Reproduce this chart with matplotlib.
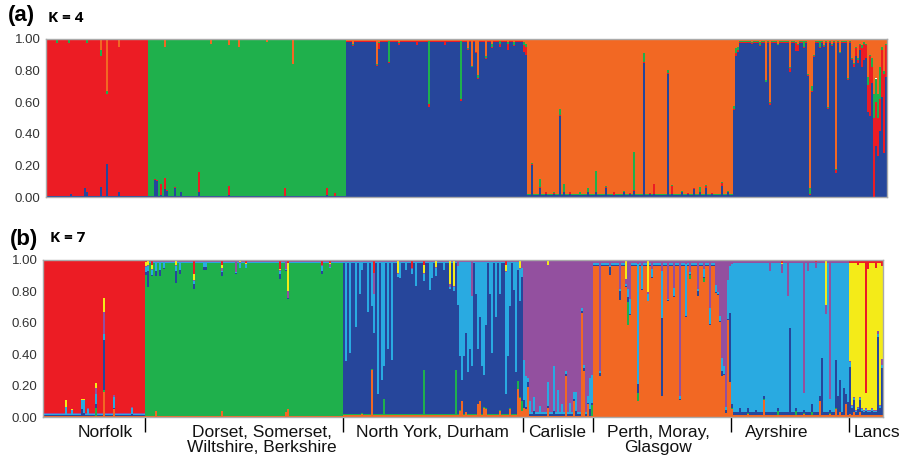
import numpy as np
import matplotlib
matplotlib.use('Agg')
import matplotlib.pyplot as plt

plt.rcParams['font.family'] = ['Liberation Sans', 'DejaVu Sans']

# sampling groups, in plotting order, and number of individuals in each
pops = ['Norfolk', 'South', 'NorthYork', 'Carlisle', 'Perth', 'Ayrshire', 'Lancs']
n_ind = [51, 99, 90, 35, 69, 59, 17]

# ---------------- K = 4 ----------------
k4_order = ['blue', 'red', 'green', 'orange']          # stacking order, bottom -> top
k4_colors = {'blue': '#26469b', 'red': '#ec1c24', 'green': '#1fb04c', 'orange': '#f26823'}
k4_main = ['red', 'green', 'blue', 'orange', 'orange', 'blue', 'blue']
k4_base = [
    {'blue': .004, 'green': .003, 'orange': .005},
    {'blue': .005, 'red': .004, 'orange': .004},
    {'red': .005, 'green': .005, 'orange': .01},
    {'blue': .01, 'red': .004, 'green': .004},
    {'blue': .01, 'red': .004, 'green': .004},
    {'red': .005, 'green': .006, 'orange': .012},
    {'red': .03, 'green': .01, 'orange': .03},
]
k4_norfolk = {
    5: {'green': .02}, 11: {'green': .02}, 12: {'blue': .02}, 19: {'blue': .06},
    20: {'blue': .03, 'green': .02}, 27: {'blue': .065, 'orange': .07, 'green': .04},
    30: {'blue': .21, 'orange': .33, 'green': .015}, 36: {'blue': .03, 'orange': .05},
}
k4_south = {
    3: {'blue': .11}, 4: {'blue': .10, 'red': .01}, 6: {'red': .07, 'blue': .01},
    8: {'red': .07, 'blue': .05, 'orange': .05}, 9: {'blue': .04},
    13: {'blue': .06, 'red': .005}, 16: {'blue': .03}, 25: {'red': .13, 'blue': .03},
    31: {'orange': .03}, 40: {'red': .06, 'blue': .01, 'orange': .04},
    45: {'orange': .05}, 59: {'orange': .02}, 68: {'red': .05}, 72: {'orange': .16},
    89: {'red': .05, 'blue': .01}, 93: {'red': .02},
}
k4_northyork = {
    3: {'orange': .03, 'red': .01}, 15: {'orange': .16}, 16: {'red': .04, 'orange': .02},
    21: {'green': .13, 'orange': .015}, 26: {'red': .015, 'orange': .02}, 35: {'red': .02},
    41: {'green': .40, 'red': .02, 'orange': .01}, 49: {'red': .02},
    57: {'green': .37, 'red': .01}, 60: {'orange': .06}, 62: {'orange': .17},
    64: {'orange': .08}, 65: {'orange': .23, 'green': .02}, 69: {'orange': .11, 'green': .01},
    72: {'green': .02, 'orange': .03}, 76: {'red': .02, 'green': .02},
    80: {'red': .04, 'green': .01, 'orange': .02}, 83: {'green': .02, 'orange': .02},
    88: {'red': .04, 'green': .02, 'orange': .02}, 89: {'red': .05, 'green': .02, 'orange': .03},
}
k4_carlisle = {
    2: {'blue': .20, 'red': .01}, 6: {'blue': .06, 'green': .05}, 9: {'blue': .02, 'red': .01},
    13: {'blue': .02, 'green': .01}, 16: {'blue': .51, 'red': .01, 'green': .04},
    18: {'blue': .03, 'green': .05}, 21: {'blue': .02, 'red': .01},
    26: {'green': .02, 'blue': .01}, 30: {'blue': .03, 'green': .02},
    34: {'blue': .03, 'green': .13},
}
k4_perth = {
    4: {'blue': .06}, 8: {'blue': .01, 'red': .02}, 13: {'blue': .03}, 16: {'blue': .02},
    18: {'blue': .04, 'green': .24}, 23: {'blue': .85, 'green': .06}, 26: {'blue': .02},
    28: {'blue': .02, 'red': .06}, 35: {'blue': .78, 'green': .02},
    37: {'red': .05, 'blue': .02}, 42: {'blue': .03}, 45: {'blue': .02}, 48: {'blue': .05},
    51: {'blue': .03, 'green': .03}, 54: {'blue': .06, 'red': .01}, 57: {'blue': .02},
    62: {'blue': .07, 'red': .02}, 65: {'blue': .03}, 68: {'blue': .55, 'green': .02},
}
k4_ayrshire = {
    0: {'orange': .06, 'green': .03, 'red': .02}, 1: {'orange': .05, 'green': .02, 'red': .01},
    8: {'orange': .02}, 12: {'green': .02, 'orange': .02}, 15: {'orange': .26, 'green': .01},
    17: {'orange': .40, 'red': .01}, 21: {'orange': .03}, 27: {'orange': .18, 'red': .02},
    30: {'red': .05, 'orange': .02}, 31: {'red': .04, 'orange': .03},
    34: {'green': .04, 'orange': .01}, 36: {'orange': .22, 'red': .01},
    37: {'orange': .94, 'green': .04}, 38: {'orange': .30, 'green': .03}, 39: {'orange': .10},
    42: {'green': .04}, 44: {'orange': .04}, 46: {'orange': .43},
    48: {'orange': .03, 'green': .01}, 50: {'orange': .82, 'red': .02}, 52: {'orange': .08},
    56: {'orange': .25}, 58: {'orange': .12},
}
k4_lancs = {
    0: {'orange': .15, 'red': .02}, 1: {'orange': .05, 'red': .05},
    2: {'orange': .12, 'red': .02}, 4: {'red': .12, 'green': .02, 'orange': .04},
    5: {'red': .10, 'orange': .02}, 6: {'orange': .03, 'red': .08},
    7: {'red': .17, 'green': .05, 'orange': .24}, 8: {'red': .38, 'orange': .10},
    9: {'red': .10, 'green': .06, 'orange': .12}, 10: {'red': .50, 'green': .15, 'orange': .35},
    11: {'red': .28, 'green': .15, 'orange': .25}, 12: {'red': .24, 'green': .15, 'orange': .35},
    13: {'red': .20, 'green': .20, 'orange': .18}, 14: {'red': .30, 'green': .02, 'orange': .05},
    15: {'red': .50, 'orange': .20, 'green': .02}, 16: {'red': .20, 'orange': .03},
}
k4_mix = [k4_norfolk, k4_south, k4_northyork, k4_carlisle, k4_perth, k4_ayrshire, k4_lancs]

# ---------------- K = 7 ----------------
k7_order = ['org', 'grn', 'dbl', 'lbl', 'pur', 'yel', 'red']
k7_colors = {'org': '#f26823', 'grn': '#1fb04c', 'dbl': '#26469b', 'lbl': '#29aae1',
             'pur': '#93509f', 'yel': '#f4eb18', 'red': '#ec1c24'}
k7_main = ['red', 'grn', 'dbl', 'pur', 'org', 'lbl', 'yel']
k7_base = [
    {'org': .005, 'grn': .003, 'dbl': .005, 'lbl': .008, 'pur': .003, 'yel': .003},
    {'org': .005, 'dbl': .005, 'lbl': .005, 'pur': .005, 'yel': .003, 'red': .004},
    {'org': .012, 'grn': .005, 'lbl': .008, 'pur': .006, 'yel': .004, 'red': .004},
    {'org': .008, 'dbl': .012, 'lbl': .015, 'yel': .004, 'red': .003},
    {'dbl': .006, 'lbl': .01, 'pur': .015, 'yel': .004, 'red': .003},
    {'org': .01, 'grn': .005, 'dbl': .018, 'pur': .008, 'yel': .004, 'red': .004},
    {'org': .01, 'dbl': .02, 'lbl': .01, 'pur': .005, 'red': .02},
]
k7_norfolk = {
    11: {'lbl': .05, 'yel': .04}, 14: {'lbl': .03}, 19: {'dbl': .04, 'lbl': .06},
    20: {'lbl': .08, 'dbl': .02}, 22: {'lbl': .04},
    26: {'grn': .05, 'dbl': .03, 'lbl': .06, 'pur': .04, 'yel': .03},
    30: {'org': .16, 'grn': .01, 'dbl': .32, 'lbl': .04, 'pur': .14, 'yel': .09},
    35: {'org': .05, 'lbl': .07, 'pur': .01}, 44: {'lbl': .04, 'dbl': .01},
}
k7_south = {
    0: {'yel': .03, 'lbl': .03, 'dbl': .02, 'red': .01}, 1: {'dbl': .10, 'lbl': .03, 'yel': .03},
    3: {'red': .03, 'yel': .03, 'lbl': .03}, 5: {'org': .04, 'lbl': .06, 'dbl': .03},
    7: {'lbl': .05, 'dbl': .04}, 9: {'lbl': .04}, 15: {'yel': .03, 'lbl': .03, 'dbl': .08},
    17: {'lbl': .05, 'dbl': .03}, 24: {'red': .09, 'yel': .04, 'lbl': .02, 'dbl': .03},
    29: {'lbl': .03, 'dbl': .02}, 30: {'lbl': .03, 'dbl': .02},
    38: {'org': .04, 'red': .03, 'yel': .02, 'pur': .02, 'dbl': .03}, 45: {'pur': .07},
    47: {'lbl': .03, 'yel': .01}, 50: {'red': .02, 'lbl': .02},
    67: {'red': .06, 'lbl': .02, 'dbl': .03}, 70: {'org': .03, 'pur': .05},
    71: {'org': .05, 'red': .02, 'yel': .18, 'pur': .04},
    88: {'red': .03, 'lbl': .03, 'dbl': .02}, 92: {'red': .02, 'pur': .02},
}
k7_northyork = {
    1: {'lbl': .63}, 3: {'lbl': .58}, 6: {'lbl': .41}, 8: {'lbl': .20},
    9: {'org': .02, 'lbl': .05}, 12: {'lbl': .32}, 14: {'org': .30, 'lbl': .28},
    15: {'red': .08, 'pur': .13, 'lbl': .25}, 17: {'lbl': .84}, 19: {'lbl': .75},
    20: {'lbl': .66, 'grn': .10}, 22: {'lbl': .55}, 24: {'lbl': .62},
    27: {'yel': .08, 'lbl': .02}, 28: {'lbl': .10}, 31: {'lbl': .05},
    34: {'red': .05, 'lbl': .03}, 36: {'lbl': .15},
    40: {'grn': .29, 'lbl': .05, 'yel': .05, 'red': .03}, 43: {'lbl': .18}, 44: {'lbl': .10},
    46: {'lbl': .05, 'yel': .04}, 50: {'lbl': .05}, 53: {'yel': .15, 'pur': .02},
    55: {'yel': .16, 'lbl': .03}, 56: {'grn': .29}, 57: {'lbl': .25, 'pur': .03},
    58: {'lbl': .60, 'org': .04}, 59: {'lbl': .75, 'org': .10}, 60: {'lbl': .60},
    61: {'lbl': .45, 'org': .03}, 62: {'lbl': .70}, 63: {'lbl': .55},
    64: {'pur': .22, 'lbl': .45}, 66: {'lbl': .20}, 67: {'org': .08, 'lbl': .55},
    68: {'org': .10, 'lbl': .35}, 69: {'lbl': .66}, 70: {'org': .06, 'lbl': .72},
    71: {'org': .05, 'lbl': .40}, 73: {'lbl': .20}, 74: {'lbl': .58}, 76: {'lbl': .35},
    78: {'lbl': .20, 'org': .04}, 81: {'red': .03, 'yel': .04, 'lbl': .78},
    82: {'lbl': .60}, 83: {'lbl': .28, 'org': .05}, 85: {'lbl': .18}, 86: {'lbl': .70},
    87: {'org': .18, 'grn': .05, 'lbl': .05}, 88: {'org': .12, 'lbl': .20, 'yel': .05},
    89: {'org': .04, 'grn': .06, 'lbl': .06, 'pur': .04},
}
k7_carlisle = {
    0: {'org': .06, 'dbl': .05, 'lbl': .25}, 1: {'org': .05, 'lbl': .20},
    2: {'org': .19, 'dbl': .03, 'lbl': .03}, 3: {'lbl': .08}, 5: {'lbl': .09, 'dbl': .03},
    8: {'lbl': .05}, 12: {'org': .06, 'lbl': .15, 'yel': .03}, 15: {'lbl': .29, 'dbl': .03},
    17: {'lbl': .15}, 19: {'lbl': .06}, 21: {'org': .26, 'lbl': .02}, 23: {'lbl': .07},
    25: {'org': .10, 'lbl': .05}, 26: {'lbl': .12, 'dbl': .03}, 29: {'org': .66, 'lbl': .02},
    30: {'org': .29, 'dbl': .02, 'lbl': .02}, 32: {'org': .08, 'lbl': .04},
    33: {'lbl': .20, 'dbl': .04}, 34: {'grn': .07, 'lbl': .18},
}
k7_perth = {
    3: {'pur': .70, 'dbl': .02}, 8: {'dbl': .05, 'pur': .03}, 13: {'dbl': .06, 'pur': .18},
    16: {'yel': .12, 'pur': .03}, 17: {'grn': .15, 'dbl': .03, 'lbl': .05, 'pur': .18},
    18: {'lbl': .10, 'pur': .24}, 22: {'grn': .05, 'dbl': .06, 'lbl': .76, 'pur': .02},
    24: {'lbl': .15, 'pur': .03}, 27: {'yel': .20, 'lbl': .04}, 29: {'lbl': .05, 'pur': .05},
    34: {'dbl': .50, 'lbl': .30, 'pur': .06}, 37: {'pur': .24}, 40: {'lbl': .05, 'pur': .17},
    43: {'lbl': .02, 'pur': .86}, 46: {'lbl': .33, 'pur': .02}, 48: {'grn': .03, 'pur': .07},
    52: {'dbl': .03, 'pur': .18}, 55: {'grn': .03, 'lbl': .05, 'pur': .05},
    58: {'lbl': .10, 'pur': .30}, 61: {'lbl': .05, 'pur': .15}, 62: {'pur': .20},
    63: {'pur': .35, 'lbl': .03}, 64: {'pur': .62, 'lbl': .08, 'dbl': .03},
    65: {'pur': .67, 'lbl': .05}, 66: {'pur': .93, 'dbl': .02, 'lbl': .02},
    67: {'pur': .12, 'lbl': .25}, 68: {'dbl': .44, 'lbl': .30, 'pur': .03},
}
k7_ayrshire = {
    0: {'org': .05, 'dbl': .03, 'pur': .02}, 4: {'dbl': .04}, 8: {'dbl': .03, 'org': .02},
    12: {'dbl': .03}, 16: {'org': .11}, 19: {'pur': .06}, 23: {'grn': .03},
    25: {'pur': .06, 'red': .02}, 28: {'pur': .22}, 29: {'dbl': .55},
    32: {'grn': .03, 'dbl': .02}, 36: {'pur': .84, 'org': .02}, 38: {'pur': .06},
    40: {'dbl': .05, 'grn': .02}, 42: {'pur': .04, 'red': .01}, 44: {'org': .10, 'dbl': .03},
    45: {'dbl': .36}, 47: {'yel': .28, 'pur': .06}, 49: {'pur': .88, 'org': .02},
    52: {'dbl': .31, 'org': .05}, 53: {'dbl': .12}, 54: {'dbl': .20, 'org': .03},
    56: {'dbl': .17}, 57: {'org': .08, 'dbl': .06}, 58: {'dbl': .08},
}
k7_lancs = {
    0: {'org': .02, 'dbl': .30, 'lbl': .03}, 1: {'dbl': .05},
    2: {'org': .03, 'dbl': .08, 'red': .02}, 4: {'red': .03, 'dbl': .04},
    5: {'dbl': .08, 'org': .03}, 6: {'dbl': .03}, 8: {'org': .01, 'dbl': .03, 'red': .85},
    9: {'red': .06}, 11: {'dbl': .03}, 13: {'red': .05},
    14: {'dbl': .50, 'lbl': .02, 'pur': .02}, 15: {'dbl': .05},
    16: {'dbl': .30, 'lbl': .02, 'pur': .04, 'red': .04},
}
k7_mix = [k7_norfolk, k7_south, k7_northyork, k7_carlisle, k7_perth, k7_ayrshire, k7_lancs]

# region labels under the K = 7 panel (x in individual units)
region_labels = ['Norfolk', 'Dorset, Somerset,\nWiltshire, Berkshire', 'North York, Durham',
                 'Carlisle', 'Perth, Moray,\nGlasgow', 'Ayrshire', 'Lancs']
label_x = [31, 109.5, 194.5, 257, 307.5, 367, 417]


def build_q(order, main, base, mix):
    rows = []
    for p, n in enumerate(n_ind):
        for i in range(n):
            q = {k: base[p].get(k, 0.0) for k in order}
            q.update(mix[p].get(i, {}))
            q[main[p]] = 0.0
            q[main[p]] = max(0.0, 1.0 - sum(q.values()))
            rows.append([q[k] for k in order])
    return np.array(rows)


def draw_structure(ax, Q, order, colors):
    x = np.arange(Q.shape[0])
    bottom = np.zeros(Q.shape[0])
    for j, k in enumerate(order):
        ax.bar(x, Q[:, j], bottom=bottom, width=1.0, align='edge',
               color=colors[k], linewidth=0, antialiased=False)
        bottom += Q[:, j]
    ax.set_xlim(0, Q.shape[0])
    ax.set_ylim(0, 1)
    ax.set_yticks([0, .2, .4, .6, .8, 1.0])
    ax.set_yticklabels(['0.00', '0.20', '0.40', '0.60', '0.80', '1.00'])
    ax.tick_params(axis='y', length=0, pad=4, labelsize=9.5, labelcolor='#333333')
    for s in ax.spines.values():
        s.set_color('#aaaaaa')
        s.set_linewidth(1)


fig = plt.figure(figsize=(9.05, 4.59), dpi=100)
W, H = 905, 459
ax_a = fig.add_axes([46 / W, 1 - 197 / H, 841 / W, 158 / H])
ax_b = fig.add_axes([43 / W, 1 - 417 / H, 840 / W, 157 / H])

Q4 = build_q(k4_order, k4_main, k4_base, k4_mix)
Q7 = build_q(k7_order, k7_main, k7_base, k7_mix)
draw_structure(ax_a, Q4, k4_order, k4_colors)
draw_structure(ax_b, Q7, k7_order, k7_colors)

ax_a.set_xticks([])
bounds = np.cumsum(n_ind)[:-1]
ax_b.set_xticks(bounds)
ax_b.set_xticklabels([])
ax_b.tick_params(axis='x', length=11, width=1, color='black', direction='out')

for lab, lx in zip(region_labels, label_x):
    ax_b.text(lx, -0.05, lab, ha='center', va='top', fontsize=12.5,
              linespacing=1.05, color='#111111', transform=ax_b.get_xaxis_transform(),
              clip_on=False)

fig.text(8 / W, 1 - 16 / H, '(a)', fontsize=16, fontweight='bold', va='center')
fig.text(48 / W, 1 - 18 / H, 'K = 4', fontsize=11, fontweight='bold', va='center',
         family=['Open Sans', 'DejaVu Sans'])
fig.text(10 / W, 1 - 240 / H, '(b)', fontsize=16, fontweight='bold', va='center')
fig.text(50 / W, 1 - 238 / H, 'K = 7', fontsize=11, fontweight='bold', va='center',
         family=['Open Sans', 'DejaVu Sans'])

fig.savefig('out.png', dpi=100)
